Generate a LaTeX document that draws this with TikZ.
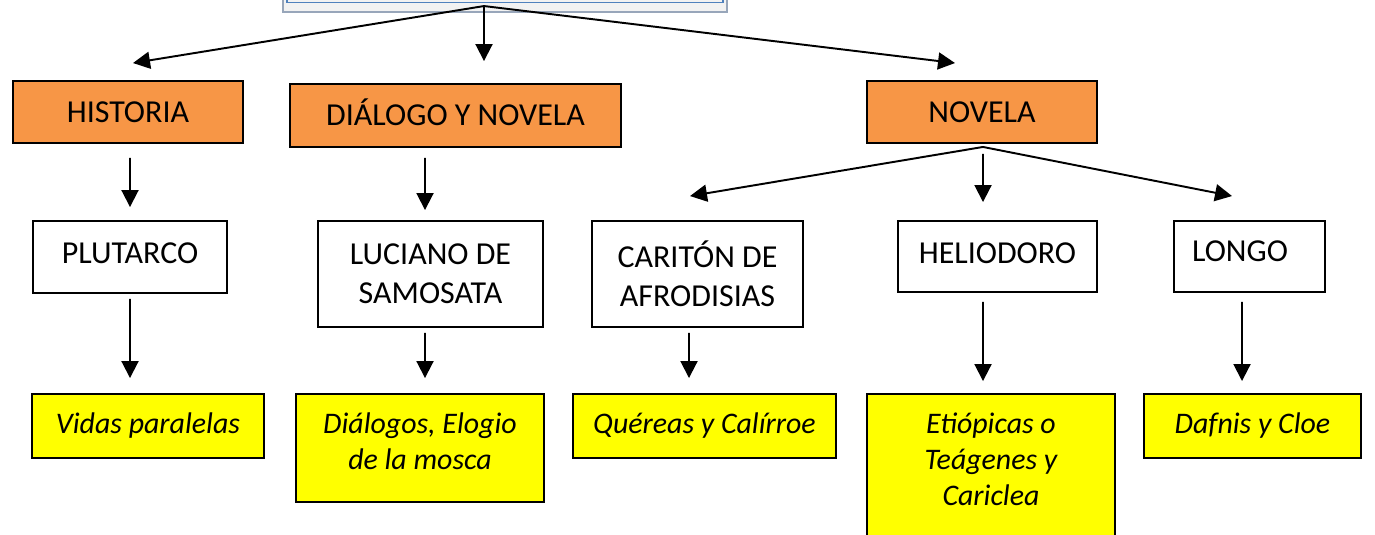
\documentclass[tikz,border=0pt]{standalone}
\usepackage{fontspec}
\setmainfont{Carlito}
\usepackage{xcolor}
\usetikzlibrary{arrows.meta, positioning}

\definecolor{genreorange}{HTML}{F79646}
\definecolor{workyellow}{HTML}{FFFF00}
\definecolor{titlefill}{HTML}{F2F2F2}
\definecolor{titleedge}{HTML}{98A6BA}
\definecolor{titleblue}{HTML}{4F81BD}

\begin{document}
\begin{tikzpicture}[
			x=0.02cm, y=-0.02cm,
			every node/.style={draw, line width=1.1pt, rectangle, align=center, inner sep=0pt,
				font=\fontsize{18.2pt}{22pt}\selectfont},
			genre/.style={fill=genreorange},
			author/.style={fill=white},
			work/.style={fill=workyellow, font=\fontsize{17pt}{20.5pt}\selectfont\itshape},
			titlebox/.style={fill=titlefill, draw=titleedge, line width=1.2pt},
			arrow/.style={-{Triangle[length=0.34cm, width=0.34cm]}, line width=1.1pt}
			]
			\useasboundingbox (0,0) rectangle (1375,534);
			\clip (0,0) rectangle (1375,534);
			
			% Title box, cut off at the top
			\node (title) [titlebox, minimum width=8.88cm, minimum height=1.24cm] at (505,-19) {};
			\draw [titleblue, line width=0.6pt] ([xshift=0.1cm, yshift=0.22cm]title.south west) rectangle ([xshift=-0.1cm, yshift=-0.1cm]title.north east);
			
			% Genres
			\node (historia) [genre, minimum width=4.6cm, minimum height=1.24cm] at (128,112) {HISTORIA};
			\node (dialogo) [genre, minimum width=6.62cm, minimum height=1.26cm, text height=0.41cm] at (455.5,115.5) {DIÁLOGO Y NOVELA};
			\node (novela) [genre, minimum width=4.6cm, minimum height=1.24cm] at (982,112) {NOVELA};
			
			% Authors
			\node (plutarco) [author, minimum width=3.88cm, minimum height=1.44cm, text depth=0.16cm] at (130,257) {PLUTARCO};
			\node (luciano) [author, minimum width=4.5cm, minimum height=2.12cm] at (430.5,274) {LUCIANO DE\\SAMOSATA};
			\node (cariton) [author, minimum width=4.22cm, minimum height=2.12cm] at (697.5,274) {CARITÓN DE\\AFRODISIAS};
			\node (heliodoro) [author, minimum width=3.98cm, minimum height=1.42cm, text depth=0.14cm] at (997.5,256.5) {HELIODORO};
			\node (longo) [author, minimum width=3.02cm, minimum height=1.42cm, text depth=0.22cm] at (1249.5,256.5) {LONGO\hspace{0.38cm}};
			
			% Works
			\node (vidas) [work, minimum width=4.64cm, minimum height=1.28cm] at (148,426) {Vidas paralelas};
			\node (dialogos) [work, minimum width=4.96cm, minimum height=2.16cm, text depth=0.28cm] at (420,448) {Diálogos, Elogio\\de la mosca};
			\node (quereas) [work, minimum width=5.26cm, minimum height=1.28cm] at (704.5,426) {Quéreas y Calírroe};
			\node (etiopicas) [work, minimum width=4.96cm, minimum height=3.02cm, text depth=0.4cm] at (991,469.5) {Etiópicas o\\Teágenes y\\Cariclea};
			\node (dafnis) [work, minimum width=4.34cm, minimum height=1.28cm] at (1252.5,426) {Dafnis y Cloe};
			
			% Branch points
			\coordinate (apex) at ([xshift=-0.42cm, yshift=0.14cm]title.south);
			\coordinate (fork) at ([xshift=0.02cm, yshift=-0.06cm]novela.south);
			
			% Connections
			\draw [arrow] (apex) -- ([xshift=0.1cm, yshift=0.34cm]historia.north);
			\draw [arrow] (apex) -- ([xshift=0.57cm, yshift=0.44cm]dialogo.north);
			\draw [arrow] (apex) -- ([xshift=-0.54cm, yshift=0.34cm]novela.north);
			
			\draw [arrow, shorten <=0.28cm, shorten >=0.26cm] ([xshift=0.04cm]historia.south) -- (plutarco.north);
			\draw [arrow, shorten <=0.2cm, shorten >=0.2cm] ([xshift=-0.61cm]dialogo.south) -- ([xshift=-0.11cm]luciano.north);
			\draw [arrow] (fork) -- ([xshift=-0.15cm, yshift=0.48cm]cariton.north);
			\draw [arrow, shorten <=0.14cm, shorten >=0.36cm] (fork) -- ([xshift=-0.29cm]heliodoro.north);
			\draw [arrow] (fork) -- ([xshift=-0.35cm, yshift=0.48cm]longo.north);
			
			\draw [arrow, shorten <=0.1cm, shorten >=0.3cm] (plutarco.south) -- ([xshift=-0.36cm]vidas.north);
			\draw [arrow, shorten <=0.1cm, shorten >=0.3cm] ([xshift=-0.11cm]luciano.south) -- ([xshift=0.1cm]dialogos.north);
			\draw [arrow, shorten <=0.1cm, shorten >=0.3cm] ([xshift=-0.17cm]cariton.south) -- ([xshift=-0.31cm]quereas.north);
			\draw [arrow, shorten <=0.18cm, shorten >=0.24cm] ([xshift=-0.29cm]heliodoro.south) -- ([xshift=-0.16cm]etiopicas.north);
			\draw [arrow, shorten <=0.18cm, shorten >=0.24cm] ([xshift=-0.15cm]longo.south) -- ([xshift=-0.21cm]dafnis.north);
			
		\end{tikzpicture}
\end{document}
